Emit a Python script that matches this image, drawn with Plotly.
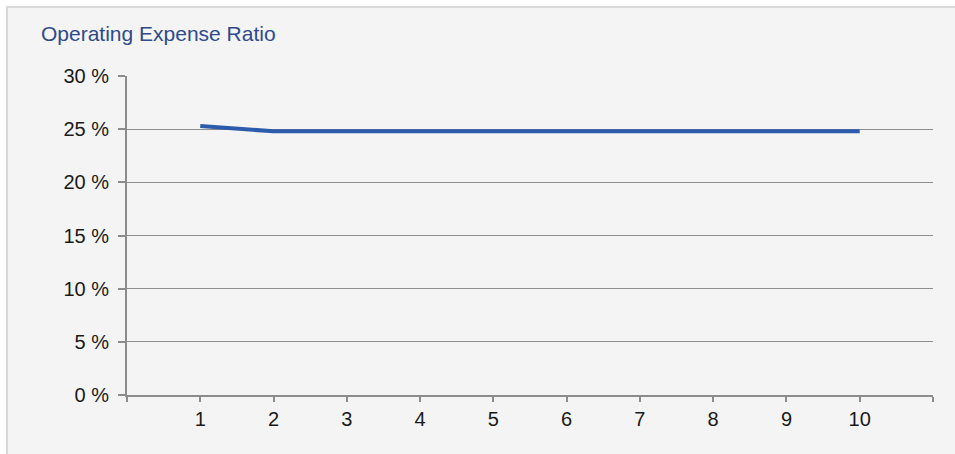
import plotly.graph_objects as go

periods = [1, 2, 3, 4, 5, 6, 7, 8, 9, 10]
expense_ratio = [25.3, 24.8, 24.8, 24.8, 24.8, 24.8, 24.8, 24.8, 24.8, 24.8]
y_ticks = [0, 5, 10, 15, 20, 25, 30]
y_tick_labels = ["0 %", "5 %", "10 %", "15 %", "20 %", "25 %", "30 %"]
x_ticks = list(range(0, 12))
x_tick_labels = [""] + [str(p) for p in periods] + [""]

W, H = 955, 454
L, R, T, B = 127, 933, 76, 395  # plot area pixels
pw, ph = R - L, B - T

def px(x):
    return (x - L) / pw

def py(y):
    return (B - y) / ph

fig = go.Figure()
fig.add_trace(go.Scatter(
    x=periods, y=expense_ratio, mode="lines",
    line=dict(color="#2d5bab", width=4),
    hoverinfo="skip", showlegend=False,
))

fig.update_layout(
    width=W, height=H,
    margin=dict(l=L, r=W - R, t=T, b=H - B),
    paper_bgcolor="white",
    plot_bgcolor="#f4f4f4",
    font=dict(family="Liberation Sans, Arial, sans-serif", color="#222222"),
    shapes=[dict(
        type="rect", xref="paper", yref="paper", layer="below",
        x0=px(7), x1=px(970), y0=py(470), y1=py(7),
        fillcolor="#f4f4f4", line=dict(color="#d9d9d9", width=2),
    )],
    annotations=[dict(
        text="Operating Expense Ratio", xref="paper", yref="paper",
        x=px(39), y=py(33), xanchor="left", yanchor="middle",
        showarrow=False, font=dict(size=21, color="#2e4a8c",
                                   family="Liberation Sans, Arial, sans-serif"),
    )],
    xaxis=dict(
        range=[0, 11], tickmode="array", tickvals=x_ticks, ticktext=x_tick_labels,
        showgrid=False, zeroline=False, showline=True, linecolor="#8c8c8c", linewidth=2,
        ticks="outside", ticklen=5, tickwidth=2, tickcolor="#8c8c8c",
        tickfont=dict(size=20, color="#1a1a1a"), fixedrange=True,
    ),
    yaxis=dict(
        range=[0, 30], tickmode="array", tickvals=y_ticks, ticktext=y_tick_labels,
        showgrid=True, gridcolor="#8f8f8f", gridwidth=1, zeroline=False,
        showline=True, linecolor="#8c8c8c", linewidth=2,
        ticks="outside", ticklen=7, tickwidth=2, tickcolor="#8c8c8c",
        ticklabelstandoff=5,
        tickfont=dict(size=20, color="#1a1a1a"), fixedrange=True,
    ),
)

fig.write_html("out.html", config={"displayModeBar": False})
